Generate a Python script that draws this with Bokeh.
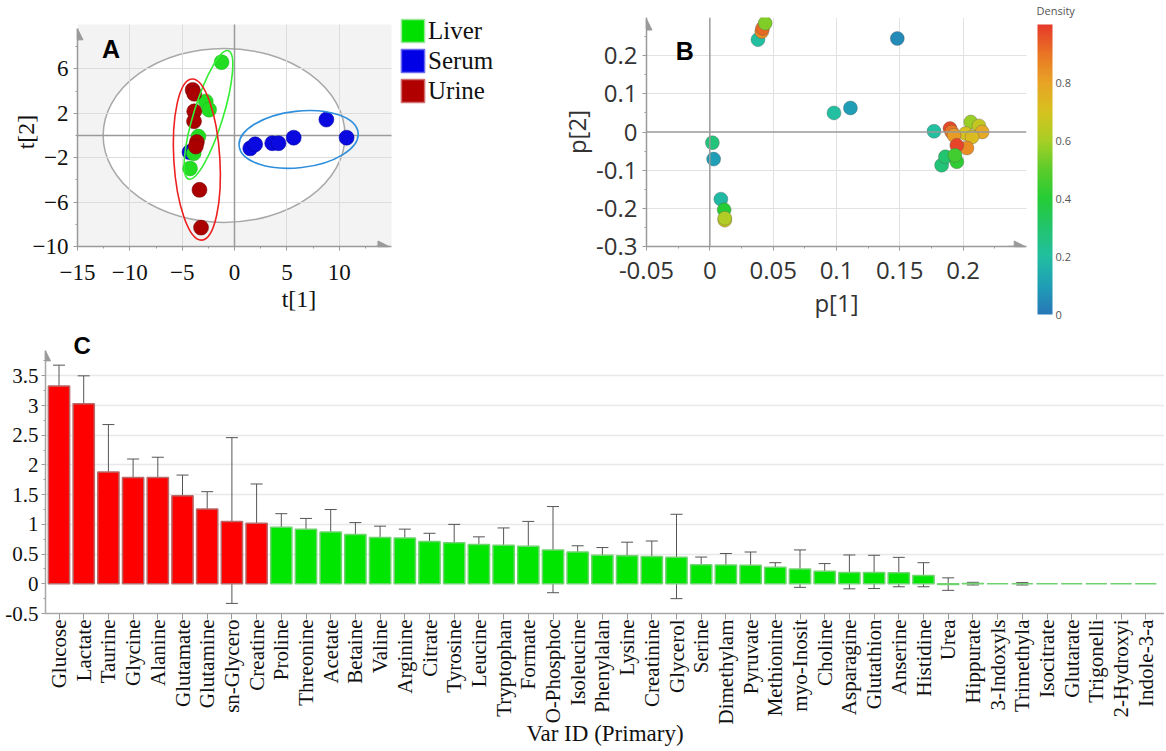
import numpy as np
from bokeh.plotting import figure
from bokeh.models import (Range1d, FixedTicker, CustomJSTickFormatter, Label, Legend, LegendItem, Grid,
                          Arrow, NormalHead, Whisker, TeeHead, LinearColorMapper, ColorBar, ColumnDataSource,
                          BoxAnnotation, Title, Span)
from bokeh.layouts import column, row
from bokeh.embed import file_html
from bokeh.resources import INLINE

SERIF = "Liberation Serif"
SANS = "Open Sans"
BOLD = "Liberation Sans"

# ---------------- Panel A : scores t[1] / t[2] ----------------
liver_t1 = [-1.24, -2.75, -2.43, -3.45, -3.90, -4.25]
liver_t2 = [6.6, 3.06, 2.32, -0.1, -1.6, -2.97]
serum_t1 = [-4.3, 1.5, 1.97, 3.6, 4.2, 5.65, 8.77, 10.7]
serum_t2 = [-1.5, -1.16, -0.8, -0.7, -0.7, -0.2, 1.43, -0.2]
urine_t1 = [-4.0, -3.85, -3.85, -3.87, -3.6, -3.7, -3.35, -3.2]
urine_t2 = [4.1, 3.75, 2.17, 1.28, -0.6, -1.0, -4.9, -8.3]
group_names = ["Liver", "Serum", "Urine"]
group_colors = ["#22dd22", "#0a0ae0", "#aa0000"]
group_edges = ["#14a814", "#0000a0", "#700000"]
legend_colors = ["#00e000", "#0000e6", "#b00000"]
legend_edges = ["#9ee89e", "#6a6af0", "#d07070"]
# ellipses: centre x, centre y, width (t1 units), height (t2 units), angle (deg)
hot_ell = [-1.0, 0.0, 23.1, 15.66, 0.0]
liver_ell = [-2.49, 1.85, 2.8, 12.1, -17.2]
urine_ell = [-3.6, -2.17, 4.4, 14.55, 3.5]
serum_ell = [6.12, -0.36, 11.43, 5.09, 6.4]
a_xticks = [-15, -10, -5, 0, 5, 10]
a_yticks = [-10, -6, -2, 2, 6]

# ---------------- Panel B : loadings p[1] / p[2] ----------------
b_p1 = [0.038, 0.041, 0.0416, 0.0437, 0.148, 0.098, 0.111, 0.002, 0.003, 0.0087, 0.0113, 0.0118, 0.0118,
        0.177, 0.183, 0.186, 0.206, 0.2125, 0.215, 0.202, 0.207, 0.203, 0.1896, 0.191, 0.1928, 0.195,
        0.195, 0.1935]
b_p2 = [0.242, 0.263, 0.2715, 0.285, 0.245, 0.050, 0.063, -0.028, -0.071, -0.176, -0.204, -0.231, -0.226,
        0.002, -0.087, -0.065, 0.026, 0.016, 0.0, -0.004, -0.013, -0.042, 0.009, 0.0, -0.009, -0.035,
        -0.078, -0.061]
b_density = [0.20, 0.85, 0.92, 0.55, 0.05, 0.20, 0.10, 0.27, 0.10, 0.18, 0.40, 0.68, 0.62,
             0.20, 0.28, 0.30, 0.58, 0.66, 0.78, 0.70, 0.72, 0.85, 0.97, 0.90, 0.82, 0.98,
             0.42, 0.45]
b_xticks = [-0.05, 0.0, 0.05, 0.1, 0.15, 0.2]
b_yticks = [-0.3, -0.2, -0.1, 0.0, 0.1, 0.2]
cb_ticks = [0.0, 0.2, 0.4, 0.6, 0.8]
cb_anchor_pos = [0.0, 0.1, 0.2, 0.3, 0.4, 0.5, 0.6, 0.7, 0.8, 0.9, 1.0]
cb_anchor_col = ["#2878b8", "#1f9fb5", "#22bfa0", "#22c46c", "#25cc35", "#5ccc2a",
                 "#a8cf25", "#d6c21f", "#e8a425", "#e97524", "#e6392a"]

# ---------------- Panel C : VIP bars ----------------
metab_names = ["Glucose", "Lactate", "Taurine", "Glycine", "Alanine", "Glutamate", "Glutamine", "sn-Glycero",
               "Creatine", "Proline", "Threonine", "Acetate", "Betaine", "Valine", "Arginine", "Citrate",
               "Tyrosine", "Leucine", "Tryptophan", "Formate", "O-Phosphoc", "Isoleucine", "Phenylalan",
               "Lysine", "Creatinine", "Glycerol", "Serine", "Dimethylam", "Pyruvate", "Methionine",
               "myo-Inosit", "Choline", "Asparagine", "Glutathion", "Anserine", "Histidine", "Urea",
               "Hippurate", "3-Indoxyls", "Trimethyla", "Isocitrate", "Glutarate", "Trigonelli",
               "2-Hydroxyi", "Indole-3-a"]
vip = [3.33, 3.03, 1.88, 1.79, 1.79, 1.48, 1.26, 1.05, 1.02, 0.95, 0.92, 0.87, 0.83, 0.78, 0.77, 0.71,
       0.69, 0.66, 0.65, 0.63, 0.57, 0.535, 0.48, 0.47, 0.46, 0.445, 0.32, 0.315, 0.31, 0.28, 0.25, 0.21,
       0.19, 0.19, 0.185, 0.14, -0.01, 0.005, 0.0, 0.0, 0.0, 0.0, 0.0, 0.0, 0.0]
vip_hi = [3.68, 3.50, 2.68, 2.10, 2.13, 1.83, 1.55, 2.46, 1.68, 1.18, 1.10, 1.25, 1.03, 0.97, 0.92, 0.85,
          1.00, 0.79, 0.94, 1.05, 1.30, 0.64, 0.61, 0.70, 0.72, 1.17, 0.45, 0.51, 0.535, 0.355, 0.57, 0.34,
          0.485, 0.48, 0.445, 0.355, 0.10, 0.025, 0.0, 0.02, 0.0, 0.0, 0.0, 0.0, 0.0]
vip_lo = [3.00, 2.59, 1.12, 1.52, 1.48, 1.17, 1.00, -0.33, 0.40, 0.75, 0.75, 0.51, 0.67, 0.61, 0.61, 0.57,
          0.39, 0.535, 0.355, 0.21, -0.15, 0.43, 0.355, 0.24, 0.21, -0.25, 0.20, 0.15, 0.10, 0.23, -0.06, 0.09,
          -0.085, -0.08, -0.05, -0.05, -0.11, -0.02, 0.0, -0.02, 0.0, 0.0, 0.0, 0.0, 0.0]
c_yticks = [-0.5, 0.0, 0.5, 1.0, 1.5, 2.0, 2.5, 3.0, 3.5]
c_minor = [-0.25, 0.25, 0.75, 1.25, 1.75, 2.25, 2.75, 3.25, 3.75]

AX = "#9a9a9a"
tostr = CustomJSTickFormatter(code="return tick.toString();")
HAS_CROSS = "cross_bounds" in Grid.properties()

ROW_H = 321
TOP_B = 15
BOT_B = 74


def style_axis(ax, font, size, color, lab_size):
    ax.axis_line_color = AX
    ax.axis_line_width = 1.5
    ax.major_tick_line_color = AX
    ax.minor_tick_line_color = AX
    ax.major_tick_in = 0
    ax.major_tick_out = 4
    ax.minor_tick_in = 0
    ax.minor_tick_out = 2
    ax.major_label_text_font = font
    ax.major_label_text_font_size = size
    ax.major_label_text_color = color
    ax.axis_label_text_font = font
    ax.axis_label_text_font_size = lab_size
    ax.axis_label_text_font_style = "normal"
    ax.axis_label_text_color = color


def head(size=11):
    return NormalHead(size=size, fill_color=AX, line_color=AX)


def bounded_grid(p, dim, ticks, cross, color, width):
    g = Grid(dimension=dim, ticker=FixedTicker(ticks=ticks), grid_line_color=color, grid_line_width=width)
    if HAS_CROSS:
        g.cross_bounds = cross
        p.add_layout(g, "center")
        return True
    return False


# ======== A ========
A_W = 520
A_LEFT = 77
ax_scale = 10.47  # px per t[1] unit
pA = figure(width=A_W, height=ROW_H, x_range=Range1d(-15, -15 + (A_W - A_LEFT) / ax_scale),
            y_range=Range1d(-10, 10.62), output_backend="svg", toolbar_location=None,
            min_border_left=A_LEFT, min_border_right=0, min_border_top=TOP_B, min_border_bottom=BOT_B)
pA.background_fill_color = "white"
pA.outline_line_color = None
pA.xaxis.axis_label = "t[1]"
pA.yaxis.axis_label = "t[2]"
for ax in (pA.xaxis[0], pA.yaxis[0]):
    style_axis(ax, SERIF, "23px", "#111111", "24px")
pA.xaxis.major_label_standoff = 14
pA.xaxis.axis_label_standoff = 3
pA.yaxis.major_label_standoff = 5
pA.yaxis.axis_label_standoff = -9
pA.xaxis.ticker = FixedTicker(ticks=a_xticks, minor_ticks=[t + 2.5 for t in a_xticks])
pA.yaxis.ticker = FixedTicker(ticks=a_yticks, minor_ticks=[t + 2 for t in a_yticks])
pA.xaxis.bounds = (-15, 15)
pA.yaxis.bounds = (-10, 9.6)
pA.xgrid.visible = False
pA.ygrid.visible = False

pA.add_layout(BoxAnnotation(right=15, top=10, fill_color="#f3f3f3", fill_alpha=1, line_color=None,
                            level="image"))
pA.ellipse(x=[hot_ell[0]], y=[hot_ell[1]], width=[hot_ell[2]], height=[hot_ell[3]],
           angle=np.deg2rad(hot_ell[4]), fill_color="white", line_color="#a8a8a8", line_width=1.5,
           level="underlay")
bounded_grid(pA, 0, [t for t in a_xticks if t not in (0, -15)], (-10, 10), "#dcdcdc", 1)
bounded_grid(pA, 1, [t for t in a_yticks if t != -10], (-15, 15), "#dcdcdc", 1)
if not bounded_grid(pA, 1, [0], (-15, 15), AX, 1.5):
    pA.add_layout(Span(location=0, dimension="width", line_color=AX, line_width=1.5))
if not bounded_grid(pA, 0, [0], (-10, 10), AX, 1.5):
    pA.add_layout(Span(location=0, dimension="height", line_color=AX, line_width=1.5))

pA.scatter(serum_t1, serum_t2, size=15, fill_color=group_colors[1], line_color=group_edges[1],
           line_alpha=0.5)
pA.scatter(liver_t1, liver_t2, size=15, fill_color=group_colors[0], line_color=group_edges[0],
           line_alpha=0.4)
pA.scatter(urine_t1, urine_t2, size=15, fill_color=group_colors[2], line_color=group_edges[2],
           line_alpha=0.5)
for ell, col in ((liver_ell, "#33ee33"), (urine_ell, "#ee2020"), (serum_ell, "#2f8fdc")):
    pA.ellipse(x=[ell[0]], y=[ell[1]], width=[ell[2]], height=[ell[3]], angle=np.deg2rad(ell[4]),
               fill_color=None, line_color=col, line_width=1.6)

pA.add_layout(Arrow(end=head(), x_start=13.5, y_start=-10, x_end=14.75, y_end=-10,
                    line_color=AX, line_width=1.5))
pA.add_layout(Arrow(end=head(), x_start=-15, y_start=8.5, x_end=-15, y_end=9.6,
                    line_color=AX, line_width=1.5))
pA.add_layout(Label(x=-12.67, y=6.54, text="A", text_font=BOLD, text_font_style="bold",
                    text_font_size="25px", text_color="black"))

# legend swatches: one invisible (NaN) quad per group so that the legend can draw a filled square
items = []
nan = float("nan")
for name, col, edge in zip(group_names, legend_colors, legend_edges):
    r = pA.quad(left=[nan], right=[nan], top=[nan], bottom=[nan], fill_color=col, line_color=edge,
                line_width=1.5)
    items.append(LegendItem(label=name, renderers=[r]))
legA = Legend(items=items, location=(321, 141), orientation="vertical", glyph_width=29, glyph_height=29,
              label_standoff=1, spacing=1, padding=0, margin=0, border_line_color=None,
              background_fill_alpha=0, label_text_font=SERIF, label_text_font_size="25px",
              label_height=29, label_text_color="#111111")
pA.add_layout(legA)

# ======== B ========
pB = figure(width=644, height=ROW_H, x_range=Range1d(-0.05, 0.25), y_range=Range1d(-0.3, 0.3),
            output_backend="svg", toolbar_location=None,
            min_border_left=126, min_border_right=138, min_border_top=TOP_B, min_border_bottom=BOT_B)
pB.outline_line_color = None
pB.xaxis.axis_label = "p[1]"
pB.yaxis.axis_label = "p[2]"
for ax in (pB.xaxis[0], pB.yaxis[0]):
    style_axis(ax, SANS, "24px", "#333333", "24px")
    ax.formatter = tostr
pB.xaxis.major_label_standoff = 11
pB.xaxis.axis_label_standoff = 4
pB.yaxis.major_label_standoff = 5
pB.yaxis.axis_label_standoff = 0
pB.xaxis.ticker = FixedTicker(ticks=b_xticks, minor_ticks=[round(t + 0.025, 3) for t in b_xticks])
pB.yaxis.ticker = FixedTicker(ticks=b_yticks, minor_ticks=[round(t + 0.05, 3) for t in b_yticks])
pB.xgrid.ticker = FixedTicker(ticks=[t for t in b_xticks if t > 0])
pB.ygrid.ticker = FixedTicker(ticks=[t for t in b_yticks if t != 0 and t > -0.3])
pB.grid.grid_line_color = "#e2e2e2"
pB.add_layout(Span(location=0, dimension="width", line_color=AX, line_width=1.5))
pB.add_layout(Span(location=0, dimension="height", line_color=AX, line_width=1.5))

pos = np.array(cb_anchor_pos)
rgb = np.array([[int(c[i:i + 2], 16) for i in (1, 3, 5)] for c in cb_anchor_col], dtype=float)
palette = ["#%02x%02x%02x" % tuple(int(round(np.interp(t, pos, rgb[:, k]))) for k in range(3))
           for t in np.linspace(0, 1, 256)]
mapper = LinearColorMapper(palette=palette, low=0, high=1)
srcB = ColumnDataSource(dict(x=b_p1, y=b_p2, d=b_density))
pB.scatter("x", "y", source=srcB, size=14, fill_color={"field": "d", "transform": mapper},
           line_color="#555555", line_alpha=0.35)

xb0, xb1 = pB.x_range.start, pB.x_range.end
yb0, yb1 = pB.y_range.start, pB.y_range.end
pB.add_layout(Arrow(end=head(), x_start=xb1 - 0.015, y_start=yb0, x_end=xb1 - 0.001, y_end=yb0,
                    line_color=AX, line_width=1.5))
pB.add_layout(Arrow(end=head(), x_start=xb0, y_start=yb1 - 0.03, x_end=xb0, y_end=yb1 - 0.004,
                    line_color=AX, line_width=1.5))
pB.add_layout(Label(x=-0.027, y=0.176, text="B", text_font=BOLD, text_font_style="bold",
                    text_font_size="25px", text_color="black"))

cb = ColorBar(color_mapper=mapper, location=(391, -68), width=15, height=290, padding=0, margin=0,
              ticker=FixedTicker(ticks=cb_ticks), formatter=tostr, major_tick_line_color=None,
              major_label_text_font=SANS, major_label_text_font_size="11px",
              major_label_text_color="#555555", label_standoff=3, bar_line_color=None,
              background_fill_alpha=0, border_line_color=None)
pB.add_layout(cb)
pB.add_layout(Title(text="Density", align="left", offset=390, text_font=SANS, text_font_size="11px",
                    text_font_style="normal", text_color="#555555", standoff=0), "above")

# ======== C ========
n = len(metab_names)
xs = list(range(n))
pitch = 24.7
C_W = 1164
C_LEFT = 45
x0c = -13.5 / pitch
pC = figure(width=C_W, height=428, x_range=Range1d(x0c, x0c + (C_W - C_LEFT) / pitch),
            y_range=Range1d(-0.5, 4.28), output_backend="svg", toolbar_location=None,
            min_border_left=C_LEFT, min_border_right=0, min_border_top=8, min_border_bottom=0)
pC.outline_line_color = None
pC.xaxis.axis_label = "Var ID (Primary)"
for ax in (pC.xaxis[0], pC.yaxis[0]):
    style_axis(ax, SERIF, "21px", "#111111", "23px")
    ax.axis_line_color = "#a8a8a8"
pC.xaxis.ticker = FixedTicker(ticks=xs)
pC.xaxis.major_label_overrides = {i: nm for i, nm in zip(xs, metab_names)}
pC.xaxis.major_label_orientation = np.pi / 2
pC.xaxis.major_tick_out = 6
pC.xaxis.major_label_standoff = 0
pC.xaxis.axis_label_standoff = -6
pC.yaxis.ticker = FixedTicker(ticks=c_yticks, minor_ticks=c_minor)
pC.yaxis.formatter = tostr
pC.yaxis.major_label_standoff = 3
pC.yaxis.bounds = (-0.5, 3.92)
pC.xgrid.grid_line_color = None
pC.ygrid.ticker = FixedTicker(ticks=[t for t in c_yticks if t > 0])
pC.ygrid.grid_line_color = "#e8e8e8"
pC.ygrid.grid_line_width = 1.5

fills = ["#ff0000" if v > 1 else "#00e600" for v in vip]
edges = ["#b86a6a" if v > 1 else "#6fd36f" for v in vip]
srcC = ColumnDataSource(dict(x=xs, top=vip, fill=fills, edge=edges))
pC.vbar(x="x", width=0.86, top="top", bottom=0, fill_color="fill", line_color="edge",
        line_width=1.5, source=srcC)
keep = [i for i in xs if vip_hi[i] - vip_lo[i] > 0.01]
srcE = ColumnDataSource(dict(x=[xs[i] for i in keep], hi=[vip_hi[i] for i in keep],
                             lo=[vip_lo[i] for i in keep]))
EC = "#555555"
pC.add_layout(Whisker(source=srcE, base="x", upper="hi", lower="lo", dimension="height",
                      line_color=EC, line_width=1,
                      upper_head=TeeHead(size=12, line_color=EC, line_width=1),
                      lower_head=TeeHead(size=12, line_color=EC, line_width=1)))
xc0 = pC.x_range.start
pC.add_layout(Arrow(end=head(10), x_start=xc0, y_start=3.75, x_end=xc0, y_end=3.92,
                    line_color=AX, line_width=1.5))
pC.add_layout(Label(x=0.586, y=3.79, text="C", text_font=BOLD, text_font_style="bold",
                    text_font_size="24px", text_color="black"))

layout = column(row(pA, pB), pC)
open("out.html", "w").write(file_html(layout, INLINE))
